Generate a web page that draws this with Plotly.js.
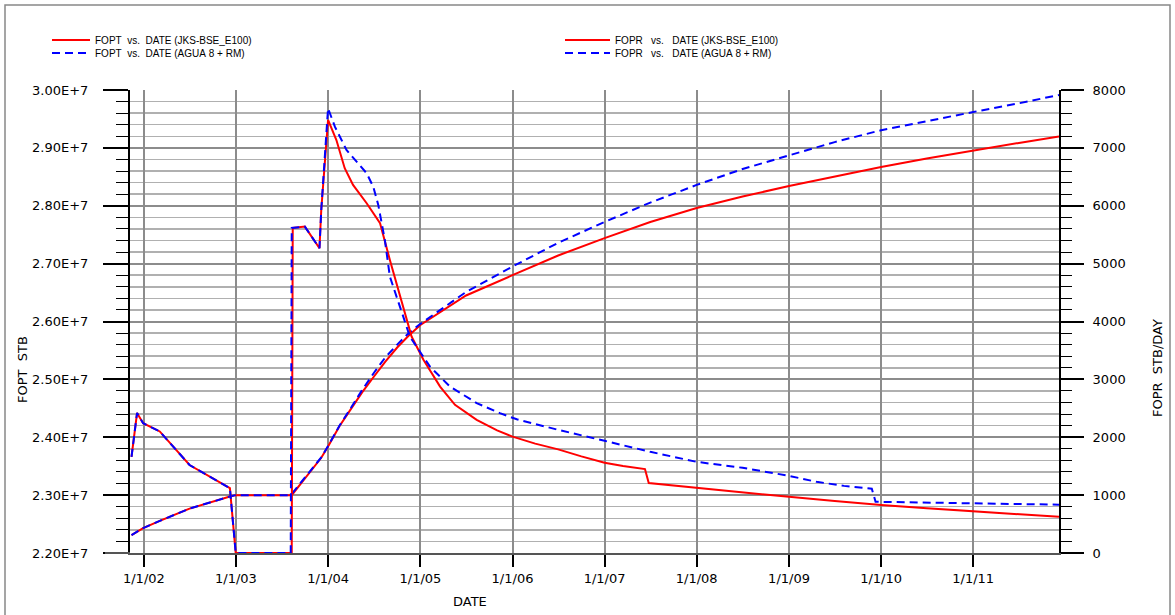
<!DOCTYPE html>
<html>
<head>
<meta charset="utf-8">
<script src="https://cdn.plot.ly/plotly-3.0.1.min.js"></script>
<style>
  html, body { margin: 0; padding: 0; background: #ffffff; }
  #chart { width: 1175px; height: 615px; }
</style>
</head>
<body>
<div id="chart"></div>
<script>
// ---------- DATA ----------
// FOPR (STB/DAY) - JKS-BSE_E100 (red solid)
const foprJksDates = ['2001-11-13','2001-12-05','2001-12-29','2002-03-05','2002-07-01','2002-12-08','2002-12-31',
  '2003-08-10','2003-08-14','2003-10-01','2003-11-28','2003-12-05','2004-01-01','2004-02-03','2004-03-07','2004-04-09',
  '2004-06-02','2004-07-25','2004-09-02','2004-11-27','2005-01-13','2005-03-20','2005-05-18','2005-08-12',
  '2005-11-01','2006-01-01','2006-04-01','2006-07-01','2006-10-01','2007-01-01','2007-03-15','2007-06-10','2007-06-25',
  '2008-01-01','2008-07-01','2009-01-01','2009-07-01','2010-01-01','2010-07-01','2011-01-01','2011-07-01','2011-12-07'];
const foprJksValues = [1660,2420,2243,2100,1520,1120,0,
  0,5617,5640,5266,5927,7482,7136,6648,6359,
  6043,5698,5064,3740,3340,2876,2560,2300,
  2120,2010,1890,1790,1670,1560,1505,1450,1210,
  1126,1045,970,900,830,775,725,675,625];

// FOPR (STB/DAY) - AGUA 8 + RM (blue dashed)
const foprAguaDates = ['2001-11-13','2001-12-05','2001-12-29','2002-03-05','2002-07-01','2002-12-08','2002-12-31',
  '2003-08-06','2003-08-10','2003-10-01','2003-11-28','2003-12-05','2004-01-01','2004-01-28','2004-03-14','2004-04-22',
  '2004-06-02','2004-06-28','2004-07-18','2004-08-13','2004-09-02','2004-10-25','2004-11-20','2005-02-08','2005-04-28',
  '2005-08-12','2005-11-12','2006-01-18','2006-07-01','2007-01-01','2007-07-01','2008-01-01','2008-07-01','2009-01-01',
  '2009-04-20','2009-08-07','2009-11-25','2009-12-10','2010-07-01','2011-01-01','2011-12-07'];
const foprAguaValues = [1660,2420,2243,2100,1520,1120,0,
  0,5617,5640,5266,5927,7684,7367,6964,6762,
  6561,6330,6014,5409,4775,4085,3740,3220,2876,
  2590,2416,2310,2128,1938,1748,1575,1472,1333,
  1230,1160,1110,885,870,850,835];

// FOPT (STB) - JKS-BSE_E100 (red solid)
const foptJksDates = ['2001-11-13','2001-12-29','2002-03-05','2002-07-01','2002-12-08','2002-12-31','2003-08-10',
  '2003-10-01','2003-11-28','2003-12-05','2004-01-01','2004-02-15','2004-04-01','2004-05-15','2004-07-01','2004-08-15',
  '2004-10-01','2004-11-15','2005-01-01','2005-07-01','2006-01-01','2006-07-01','2007-01-01','2007-07-01',
  '2008-01-01','2008-07-01','2009-01-01','2009-07-01','2010-01-01','2010-07-01','2011-01-01','2011-07-01','2011-12-07'];
const foptJksValues = [2.231e7,2.243e7,2.2555e7,2.2767e7,2.2975e7,2.300e7,2.300e7,
  2.329e7,2.3608e7,2.3645e7,2.384e7,2.419e7,2.449e7,2.4776e7,2.505e7,2.5307e7,
  2.555e7,2.5753e7,2.594e7,2.645e7,2.680e7,2.714e7,2.744e7,2.772e7,
  2.796e7,2.816e7,2.834e7,2.851e7,2.867e7,2.8815e7,2.8955e7,2.9085e7,2.9195e7];

// FOPT (STB) - AGUA 8 + RM (blue dashed)
const foptAguaDates = ['2001-11-13','2001-12-29','2002-03-05','2002-07-01','2002-12-08','2002-12-31','2003-08-06',
  '2003-10-01','2003-11-28','2003-12-05','2004-01-01','2004-02-15','2004-04-01','2004-05-15','2004-07-01','2004-08-15',
  '2004-10-01','2004-11-15','2005-01-01','2005-07-01','2006-01-01','2006-07-01','2007-01-01','2007-07-01',
  '2008-01-01','2008-07-01','2009-01-01','2009-07-01','2010-01-01','2010-07-01','2011-01-01','2011-07-01','2011-12-07'];
const foptAguaValues = [2.231e7,2.243e7,2.2555e7,2.2767e7,2.2975e7,2.300e7,2.300e7,
  2.330e7,2.3615e7,2.3652e7,2.385e7,2.4198e7,2.451e7,2.4816e7,2.5115e7,2.538e7,
  2.560e7,2.5798e7,2.596e7,2.651e7,2.695e7,2.736e7,2.772e7,2.8055e7,
  2.836e7,2.8635e7,2.887e7,2.910e7,2.9305e7,2.9464e7,2.962e7,2.977e7,2.9914e7];

// Tick labels
const xTickDates = ['2002-01-01','2003-01-01','2004-01-01','2005-01-01','2006-01-01','2007-01-01','2008-01-01','2009-01-01','2010-01-01','2011-01-01'];
const xTickLabels = ['1/1/02','1/1/03','1/1/04','1/1/05','1/1/06','1/1/07','1/1/08','1/1/09','1/1/10','1/1/11'];
const yTickValues = [2.2e7,2.3e7,2.4e7,2.5e7,2.6e7,2.7e7,2.8e7,2.9e7,3.0e7];
const yTickLabels = ['2.20E+7','2.30E+7','2.40E+7','2.50E+7','2.60E+7','2.70E+7','2.80E+7','2.90E+7','3.00E+7'];
const y2TickValues = [0,1000,2000,3000,4000,5000,6000,7000,8000];
const y2TickLabels = ['0','1000','2000','3000','4000','5000','6000','7000','8000'];

const legendNames = {
  foptJks: 'FOPT\u00a0\u00a0vs.\u00a0\u00a0DATE\u00a0(JKS-BSE_E100)',
  foptAgua: 'FOPT\u00a0\u00a0vs.\u00a0\u00a0DATE\u00a0(AGUA\u00a08\u00a0+\u00a0RM)',
  foprJks: 'FOPR\u00a0\u00a0\u00a0vs.\u00a0\u00a0\u00a0DATE\u00a0(JKS-BSE_E100)',
  foprAgua: 'FOPR\u00a0\u00a0\u00a0vs.\u00a0\u00a0\u00a0DATE\u00a0(AGUA\u00a08\u00a0+\u00a0RM)'
};

// ---------- CHART ----------
const RED = '#ff0000', BLUE = '#0000ff';
const DASH = '8px,5px';
const W = 1175, H = 615;
const L = 130, R = 116, T = 90, B = 62;
const pw = W - L - R, ph = H - T - B;
const px = v => (v - L) / pw;          // pixel x -> paper x
const py = v => (H - B - v) / ph;      // pixel y -> paper y

const traces = [
  {x: foptJksDates, y: foptJksValues, type: 'scatter', mode: 'lines', name: legendNames.foptJks,
   line: {color: RED, width: 2}, yaxis: 'y'},
  {x: foptAguaDates, y: foptAguaValues, type: 'scatter', mode: 'lines', name: legendNames.foptAgua,
   line: {color: BLUE, width: 2, dash: DASH}, yaxis: 'y'},
  {x: foprJksDates, y: foprJksValues, type: 'scatter', mode: 'lines', name: legendNames.foprJks,
   line: {color: RED, width: 2}, yaxis: 'y2'},
  {x: foprAguaDates, y: foprAguaValues, type: 'scatter', mode: 'lines', name: legendNames.foprAgua,
   line: {color: BLUE, width: 2, dash: DASH}, yaxis: 'y2'}
];

const tickFont = {family: 'DejaVu Sans, sans-serif', size: 13, color: '#000'};
const legendFont = {family: 'Liberation Sans, Arial, sans-serif', size: 10, color: '#000'};
const titleFont = {family: 'DejaVu Sans, sans-serif', size: 13, color: '#000'};

// Manual legend (line samples + text)
const legendItems = [
  {name: legendNames.foptJks, color: RED, dash: 'solid', x0: 52, x1: 90, tx: 93, y: 40},
  {name: legendNames.foptAgua, color: BLUE, dash: DASH, x0: 52, x1: 90, tx: 93, y: 53},
  {name: legendNames.foprJks, color: RED, dash: 'solid', x0: 565, x1: 610, tx: 613, y: 40},
  {name: legendNames.foprAgua, color: BLUE, dash: DASH, x0: 565, x1: 610, tx: 613, y: 53}
];

const shapes = [
  {type: 'rect', xref: 'paper', yref: 'paper', x0: px(5), x1: px(1170), y0: py(625), y1: py(5),
   line: {color: '#888', width: 1.5}, fillcolor: 'rgba(0,0,0,0)', layer: 'below'},
  {type: 'line', xref: 'paper', yref: 'paper', x0: px(105), x1: 0, y0: 0, y1: 0,
   line: {color: '#555', width: 2}}
];
const annotations = [
  {text: 'FOPT\u00a0\u00a0STB', xref: 'paper', yref: 'paper', x: px(22), y: py(370), textangle: -90,
   showarrow: false, font: titleFont, xanchor: 'center', yanchor: 'middle'},
  {text: 'FOPR\u00a0\u00a0STB/DAY', xref: 'paper', yref: 'paper', x: px(1157), y: py(368), textangle: -90,
   showarrow: false, font: titleFont, xanchor: 'center', yanchor: 'middle'},
  {text: 'DATE', xref: 'paper', yref: 'paper', x: px(470), y: py(601),
   showarrow: false, font: titleFont, xanchor: 'center', yanchor: 'middle'}
];
legendItems.forEach(it => {
  shapes.push({type: 'line', xref: 'paper', yref: 'paper', x0: px(it.x0), x1: px(it.x1), y0: py(it.y), y1: py(it.y),
               line: {color: it.color, width: 2, dash: it.dash}});
  annotations.push({text: it.name, xref: 'paper', yref: 'paper', x: px(it.tx), y: py(it.y),
                    showarrow: false, font: legendFont, xanchor: 'left', yanchor: 'middle'});
});

const layout = {
  width: W, height: H,
  margin: {l: L, r: R, t: T, b: B, pad: 0, autoexpand: false},
  paper_bgcolor: '#ffffff', plot_bgcolor: '#ffffff',
  showlegend: false,
  xaxis: {
    type: 'date', range: ['2001-11-07', '2011-12-07'],
    tickmode: 'array', tickvals: xTickDates, ticktext: xTickLabels,
    ticks: 'outside', ticklen: 12, tickwidth: 2, tickcolor: '#000',
    showgrid: true, gridcolor: '#8c8c8c', gridwidth: 2,
    showline: true, linecolor: '#555', linewidth: 2,
    zeroline: false, tickfont: tickFont, tickangle: 0, automargin: false
  },
  yaxis: {
    range: [2.2e7, 3.0e7], tickmode: 'array', tickvals: yTickValues, ticktext: yTickLabels,
    ticks: 'outside', ticklen: 25, tickwidth: 2, tickcolor: '#000',
    ticklabelstandoff: 12,
    showgrid: true, gridcolor: '#8c8c8c', gridwidth: 2,
    minor: {tickmode: 'linear', tick0: 2.2e7, dtick: 2e5, ticks: 'outside', ticklen: 12, tickwidth: 1,
            tickcolor: '#000', showgrid: true, gridcolor: '#b0b0b0', gridwidth: 1.5},
    showline: true, linecolor: '#000', linewidth: 2,
    zeroline: false, tickfont: tickFont, automargin: false
  },
  yaxis2: {
    overlaying: 'y', side: 'right', range: [0, 8000],
    tickmode: 'array', tickvals: y2TickValues, ticktext: y2TickLabels,
    ticks: 'outside', ticklen: 23, tickwidth: 2, tickcolor: '#000',
    ticklabelstandoff: 6,
    showgrid: false,
    minor: {tickmode: 'linear', tick0: 0, dtick: 200, ticks: 'outside', ticklen: 11, tickwidth: 1,
            tickcolor: '#000', showgrid: false},
    showline: true, linecolor: '#000', linewidth: 2,
    zeroline: false, tickfont: tickFont, automargin: false
  },
  annotations: annotations,
  shapes: shapes
};

Plotly.newPlot('chart', traces, layout, {staticPlot: true, displayModeBar: false});
</script>
</body>
</html>
